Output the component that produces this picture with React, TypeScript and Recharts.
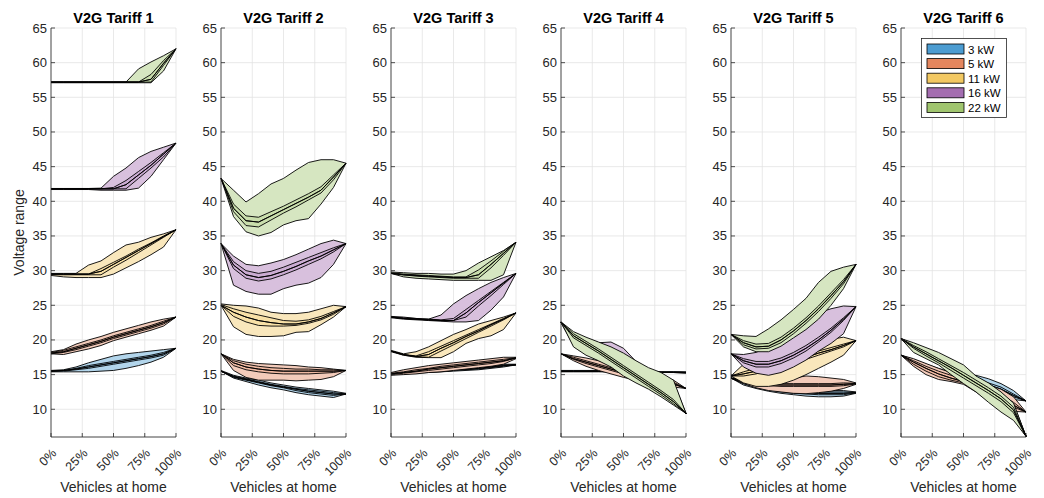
import { Area, CartesianGrid, ComposedChart, XAxis, YAxis } from 'recharts';

// share of vehicles at home, sampled every 10 %
const SHARE = [0, 10, 20, 30, 40, 50, 60, 70, 80, 90, 100];
const X_TICKS = [0, 25, 50, 75, 100];
const Y_TICKS = [10, 15, 20, 25, 30, 35, 40, 45, 50, 55, 60, 65];
const TITLES = ['V2G Tariff 1', 'V2G Tariff 2', 'V2G Tariff 3', 'V2G Tariff 4', 'V2G Tariff 5', 'V2G Tariff 6'];
const POWERS = ['3 kW', '5 kW', '11 kW', '16 kW', '22 kW'];
const COLORS = ['#0072BD', '#D95319', '#EDB120', '#7E2F8E', '#77AC30'];
// opaque pale fills: outer (min-max) and inner (quartile) bands
const FILL_OUTER = ['#B2D5EB', '#F3CBBA', '#F9E7BC', '#D8C0DD', '#D6E6C1'];
const FILL_INNER = ['#99C7E5', '#F0BAA3', '#F8E0A6', '#CBACD2', '#C9DEAC'];

// each band: [min, q1, median, q3, max]
const T1_3KW = [
  [15.4, 15.4, 15.4, 15.4, 15.5, 15.6, 15.9, 16.3, 16.8, 17.5, 18.8],
  [15.5, 15.5, 15.7, 15.9, 16.2, 16.5, 16.8, 17.1, 17.4, 17.8, 18.8],
  [15.5, 15.6, 15.8, 16.1, 16.4, 16.7, 17.0, 17.3, 17.6, 18.0, 18.8],
  [15.5, 15.6, 15.9, 16.3, 16.6, 16.9, 17.2, 17.5, 17.8, 18.2, 18.8],
  [15.6, 15.7, 16.1, 16.7, 17.2, 17.7, 18.0, 18.2, 18.4, 18.6, 18.8],
];
const T1_5KW = [
  [18.0, 17.9, 18.3, 18.7, 19.2, 19.9, 20.4, 20.9, 21.4, 22.0, 23.3],
  [18.0, 18.2, 18.6, 19.1, 19.6, 20.2, 20.7, 21.2, 21.7, 22.3, 23.3],
  [18.1, 18.3, 18.8, 19.3, 19.8, 20.4, 20.9, 21.4, 21.9, 22.5, 23.3],
  [18.2, 18.5, 19.0, 19.5, 20.0, 20.6, 21.1, 21.6, 22.1, 22.7, 23.3],
  [18.3, 18.6, 19.4, 20.0, 20.5, 21.1, 21.6, 22.1, 22.6, 23.0, 23.3],
];
const T1_11KW = [
  [29.3, 29.1, 29.0, 29.0, 29.0, 29.5, 30.4, 31.3, 32.3, 33.4, 35.9],
  [29.4, 29.4, 29.4, 29.4, 29.4, 30.5, 31.5, 32.6, 33.7, 34.8, 35.9],
  [29.5, 29.5, 29.5, 29.5, 29.9, 30.9, 31.9, 32.9, 33.9, 34.9, 35.9],
  [29.5, 29.5, 29.5, 29.5, 30.3, 31.2, 32.1, 33.1, 34.0, 35.0, 35.9],
  [29.6, 29.6, 29.6, 30.8, 31.4, 32.6, 33.7, 34.1, 34.8, 35.3, 35.9],
];
const T1_16KW = [
  [41.7, 41.7, 41.7, 41.7, 41.6, 41.6, 41.6, 41.9, 43.6, 46.0, 48.4],
  [41.8, 41.8, 41.8, 41.8, 41.8, 41.8, 41.8, 43.3, 44.8, 46.4, 48.4],
  [41.8, 41.8, 41.8, 41.8, 41.8, 41.8, 42.4, 43.8, 45.2, 46.8, 48.4],
  [41.8, 41.8, 41.8, 41.8, 41.8, 42.0, 43.0, 44.3, 45.6, 47.0, 48.4],
  [41.85, 41.85, 41.85, 41.85, 41.9, 43.6, 44.8, 46.3, 47.2, 47.8, 48.4],
];
const T1_22KW = [
  [57.1, 57.1, 57.1, 57.1, 57.1, 57.1, 57.1, 57.1, 57.1, 58.8, 62.0],
  [57.2, 57.2, 57.2, 57.2, 57.2, 57.2, 57.2, 57.2, 57.2, 59.6, 62.0],
  [57.2, 57.2, 57.2, 57.2, 57.2, 57.2, 57.2, 57.2, 57.6, 59.9, 62.0],
  [57.2, 57.2, 57.2, 57.2, 57.2, 57.2, 57.2, 57.2, 58.3, 60.3, 62.0],
  [57.2, 57.2, 57.2, 57.2, 57.2, 57.2, 57.2, 59.1, 60.1, 61.0, 62.0],
];

const T2_3KW = [
  [15.5, 14.5, 14.0, 13.5, 13.1, 12.8, 12.4, 12.1, 11.9, 11.7, 12.2],
  [15.5, 14.6, 14.2, 13.8, 13.4, 13.1, 12.7, 12.4, 12.2, 12.0, 12.2],
  [15.5, 14.7, 14.3, 13.9, 13.5, 13.2, 12.9, 12.6, 12.4, 12.2, 12.2],
  [15.5, 14.8, 14.4, 14.0, 13.6, 13.3, 13.0, 12.8, 12.6, 12.4, 12.2],
  [15.6, 14.9, 14.5, 14.2, 13.8, 13.5, 13.2, 13.0, 12.8, 12.6, 12.3],
];
const T2_5KW = [
  [18.0, 15.6, 14.6, 14.2, 14.2, 14.2, 14.1, 14.2, 14.3, 14.7, 15.6],
  [18.0, 16.3, 15.7, 15.4, 15.2, 15.1, 15.1, 15.1, 15.2, 15.3, 15.6],
  [18.0, 16.7, 16.1, 15.8, 15.6, 15.5, 15.5, 15.5, 15.5, 15.5, 15.6],
  [18.0, 17.0, 16.5, 16.2, 16.0, 15.9, 15.8, 15.8, 15.7, 15.7, 15.6],
  [18.0, 17.2, 16.8, 16.6, 16.5, 16.4, 16.3, 16.1, 16.0, 15.8, 15.6],
];
const T2_11KW = [
  [25.0, 21.9, 20.8, 20.5, 20.5, 20.6, 21.1, 21.2, 22.2, 23.3, 24.8],
  [25.0, 23.4, 22.6, 22.1, 22.0, 22.0, 22.1, 22.4, 22.9, 23.7, 24.8],
  [25.0, 24.0, 23.3, 22.8, 22.5, 22.3, 22.3, 22.6, 23.1, 23.9, 24.8],
  [25.1, 24.5, 24.0, 23.6, 23.2, 22.8, 22.7, 22.9, 23.4, 24.1, 24.8],
  [25.2, 25.0, 24.9, 24.6, 24.0, 23.8, 23.8, 24.0, 24.5, 25.0, 24.8],
];
const T2_16KW = [
  [33.9, 27.9, 27.0, 26.6, 26.6, 27.4, 27.9, 28.2, 29.0, 30.9, 33.9],
  [33.9, 30.3, 28.9, 28.5, 28.8, 29.4, 30.1, 30.9, 31.7, 32.7, 33.9],
  [33.9, 30.8, 29.4, 29.0, 29.3, 29.9, 30.6, 31.4, 32.1, 33.0, 33.9],
  [33.9, 31.3, 30.0, 29.6, 29.9, 30.5, 31.2, 31.9, 32.6, 33.3, 33.9],
  [33.9, 32.1, 30.9, 30.7, 31.1, 31.6, 32.3, 33.1, 33.9, 34.4, 33.9],
];
const T2_22KW = [
  [43.3, 37.8, 35.6, 35.0, 35.5, 36.6, 37.2, 37.5, 39.6, 42.0, 45.5],
  [43.3, 38.5, 36.5, 36.3, 37.3, 38.3, 39.2, 40.2, 41.2, 43.1, 45.5],
  [43.3, 39.0, 37.2, 37.0, 37.9, 38.8, 39.7, 40.6, 41.6, 43.5, 45.5],
  [43.3, 39.6, 37.9, 37.7, 38.5, 39.3, 40.2, 41.1, 42.1, 43.8, 45.5],
  [43.3, 41.6, 39.9, 41.1, 42.5, 43.3, 44.5, 45.6, 46.0, 46.0, 45.5],
];

const T3_3KW = [
  [15.0, 15.1, 15.2, 15.3, 15.4, 15.5, 15.6, 15.7, 15.9, 16.1, 16.4],
  [15.05, 15.15, 15.25, 15.35, 15.45, 15.6, 15.7, 15.8, 16.0, 16.2, 16.4],
  [15.1, 15.2, 15.3, 15.4, 15.5, 15.7, 15.8, 15.9, 16.1, 16.3, 16.4],
  [15.15, 15.25, 15.35, 15.5, 15.6, 15.75, 15.85, 16.0, 16.2, 16.4, 16.45],
  [15.2, 15.3, 15.4, 15.6, 15.7, 15.8, 15.9, 16.1, 16.3, 16.5, 16.5],
];
const T3_5KW = [
  [14.9, 15.0, 15.1, 15.3, 15.4, 15.6, 15.8, 16.0, 16.2, 16.5, 17.3],
  [15.0, 15.2, 15.4, 15.6, 15.8, 16.0, 16.2, 16.4, 16.6, 16.9, 17.4],
  [15.1, 15.3, 15.5, 15.8, 16.0, 16.2, 16.4, 16.6, 16.8, 17.0, 17.4],
  [15.2, 15.4, 15.7, 15.9, 16.2, 16.4, 16.6, 16.8, 17.0, 17.2, 17.45],
  [15.3, 15.7, 16.0, 16.3, 16.5, 16.7, 16.9, 17.1, 17.3, 17.5, 17.5],
];
const T3_11KW = [
  [18.3, 17.8, 17.5, 17.45, 17.45, 18.3, 19.5, 20.2, 20.6, 21.5, 23.9],
  [18.4, 17.8, 17.6, 17.5, 18.4, 19.3, 20.2, 21.1, 22.0, 22.9, 23.9],
  [18.4, 17.9, 17.6, 17.9, 18.8, 19.6, 20.5, 21.3, 22.2, 23.0, 23.9],
  [18.4, 17.9, 17.7, 18.3, 19.1, 19.9, 20.7, 21.5, 22.3, 23.1, 23.9],
  [18.5, 18.0, 18.3, 19.0, 19.9, 20.8, 21.5, 22.3, 22.8, 23.3, 23.9],
];
const T3_16KW = [
  [23.2, 23.0, 22.9, 22.8, 22.7, 22.6, 22.6, 22.8, 24.3, 26.2, 29.6],
  [23.3, 23.1, 23.0, 22.9, 22.8, 22.8, 23.3, 24.9, 26.4, 28.0, 29.6],
  [23.3, 23.1, 23.0, 22.9, 22.8, 22.8, 23.9, 25.4, 26.8, 28.2, 29.6],
  [23.3, 23.2, 23.1, 23.0, 22.9, 23.1, 24.4, 25.7, 27.0, 28.3, 29.6],
  [23.4, 23.3, 23.1, 23.0, 23.6, 25.2, 26.4, 27.4, 28.3, 29.0, 29.6],
];
const T3_22KW = [
  [29.6, 29.1, 28.9, 28.8, 28.7, 28.6, 28.6, 28.6, 28.6, 29.4, 34.1],
  [29.6, 29.4, 29.2, 29.1, 29.0, 28.9, 28.9, 28.9, 30.4, 32.2, 34.1],
  [29.6, 29.4, 29.3, 29.2, 29.1, 29.0, 29.0, 29.4, 30.9, 32.5, 34.1],
  [29.7, 29.5, 29.4, 29.3, 29.2, 29.1, 29.1, 30.1, 31.4, 32.8, 34.1],
  [29.8, 29.7, 29.6, 29.6, 29.5, 29.5, 30.0, 31.1, 32.0, 32.9, 34.1],
];

const T4_3KW = [
  [15.4, 15.4, 15.4, 15.4, 15.4, 15.3, 15.3, 15.3, 15.3, 15.3, 15.2],
  [15.45, 15.45, 15.45, 15.45, 15.4, 15.35, 15.35, 15.35, 15.3, 15.3, 15.25],
  [15.5, 15.5, 15.5, 15.5, 15.45, 15.4, 15.4, 15.4, 15.35, 15.35, 15.3],
  [15.55, 15.55, 15.55, 15.5, 15.5, 15.45, 15.45, 15.4, 15.4, 15.4, 15.35],
  [15.6, 15.6, 15.6, 15.6, 15.5, 15.5, 15.5, 15.5, 15.4, 15.4, 15.4],
];
const T4_5KW = [
  [18.0, 17.0, 16.2, 15.6, 15.1, 14.6, 14.2, 13.8, 13.5, 13.2, 13.0],
  [18.0, 17.2, 16.6, 16.1, 15.6, 15.1, 14.7, 14.3, 14.0, 13.6, 13.0],
  [18.0, 17.3, 16.8, 16.3, 15.8, 15.3, 14.9, 14.5, 14.1, 13.7, 13.0],
  [18.0, 17.5, 17.0, 16.5, 16.0, 15.5, 15.1, 14.7, 14.3, 13.9, 13.0],
  [18.0, 17.7, 17.4, 17.0, 16.6, 16.1, 15.6, 15.2, 14.8, 14.2, 13.0],
];
const T4_11KW = [
  [22.5, 19.5, 18.4, 17.4, 16.4, 15.3, 14.3, 13.3, 12.4, 11.3, 9.4],
  [22.5, 20.0, 18.9, 17.9, 17.0, 16.0, 15.0, 14.0, 13.1, 12.0, 9.4],
  [22.5, 20.2, 19.1, 18.2, 17.3, 16.3, 15.3, 14.3, 13.4, 12.3, 9.4],
  [22.5, 20.4, 19.3, 18.5, 17.6, 16.6, 15.6, 14.6, 13.7, 12.6, 9.4],
  [22.5, 20.8, 19.8, 19.0, 18.2, 17.3, 16.3, 15.3, 14.4, 13.3, 9.4],
];
const T4_16KW = [
  [22.5, 19.2, 18.0, 17.1, 16.2, 15.0, 14.0, 13.0, 12.2, 11.1, 9.4],
  [22.5, 20.3, 19.1, 18.0, 16.8, 15.6, 14.4, 13.3, 12.4, 11.3, 9.4],
  [22.5, 20.6, 19.4, 18.3, 17.1, 15.9, 14.7, 13.6, 12.7, 11.6, 9.4],
  [22.5, 20.9, 19.7, 18.6, 17.4, 16.2, 15.0, 13.9, 13.0, 11.9, 9.4],
  [22.5, 21.0, 20.2, 19.6, 19.7, 18.8, 16.9, 15.8, 15.0, 13.9, 9.4],
];
const T4_22KW = [
  [22.6, 19.0, 17.8, 17.0, 16.1, 14.8, 13.8, 12.9, 11.8, 10.6, 9.4],
  [22.6, 20.3, 19.2, 18.1, 16.9, 15.7, 14.5, 13.3, 12.1, 10.8, 9.4],
  [22.6, 20.6, 19.5, 18.4, 17.2, 16.0, 14.8, 13.6, 12.4, 11.1, 9.4],
  [22.6, 20.9, 19.8, 18.7, 17.5, 16.3, 15.1, 13.9, 12.7, 11.4, 9.4],
  [22.6, 21.2, 20.4, 19.7, 19.0, 18.1, 17.0, 16.0, 15.3, 14.2, 9.4],
];

const T5_3KW = [
  [14.5, 13.5, 13.0, 12.6, 12.3, 12.1, 11.9, 11.8, 11.8, 11.9, 12.3],
  [14.5, 13.7, 13.2, 12.8, 12.5, 12.3, 12.2, 12.1, 12.1, 12.1, 12.35],
  [14.5, 13.8, 13.3, 13.0, 12.7, 12.5, 12.4, 12.3, 12.3, 12.3, 12.4],
  [14.5, 13.9, 13.4, 13.1, 12.9, 12.7, 12.6, 12.5, 12.5, 12.5, 12.45],
  [14.5, 14.0, 13.6, 13.3, 13.1, 12.9, 12.8, 12.7, 12.7, 12.7, 12.5],
];
const T5_5KW = [
  [14.5, 13.7, 13.1, 12.7, 12.5, 12.3, 12.25, 12.4, 12.6, 13.0, 13.6],
  [14.5, 13.85, 13.5, 13.4, 13.3, 13.3, 13.3, 13.3, 13.3, 13.4, 13.65],
  [14.5, 14.0, 13.7, 13.6, 13.5, 13.5, 13.5, 13.5, 13.5, 13.6, 13.7],
  [14.5, 14.15, 13.9, 13.8, 13.7, 13.7, 13.7, 13.7, 13.7, 13.8, 13.75],
  [14.5, 14.4, 14.3, 14.3, 14.3, 14.5, 14.8, 14.7, 14.5, 14.3, 13.8],
];
const T5_11KW = [
  [14.8, 13.8, 13.3, 13.3, 13.6, 14.2, 15.0, 15.9, 16.8, 17.8, 19.9],
  [14.8, 14.8, 15.1, 15.6, 16.1, 16.6, 17.2, 17.8, 18.4, 19.0, 19.9],
  [14.8, 15.1, 15.5, 16.0, 16.5, 17.0, 17.5, 18.1, 18.6, 19.2, 19.9],
  [14.8, 15.4, 15.9, 16.4, 16.9, 17.4, 17.9, 18.4, 18.9, 19.4, 19.9],
  [14.8, 16.5, 16.7, 17.0, 17.6, 18.2, 18.9, 19.5, 20.1, 20.4, 19.9],
];
const T5_16KW = [
  [18.0, 16.1, 15.2, 14.9, 15.3, 16.1, 17.1, 18.4, 19.5, 20.9, 24.8],
  [18.0, 16.7, 16.1, 16.1, 16.6, 17.4, 18.4, 19.7, 21.1, 22.8, 24.8],
  [18.0, 17.0, 16.5, 16.5, 17.0, 17.8, 18.8, 20.0, 21.4, 23.0, 24.8],
  [18.0, 17.3, 16.9, 16.9, 17.4, 18.2, 19.2, 20.4, 21.7, 23.2, 24.8],
  [18.0, 17.9, 18.2, 19.0, 20.3, 21.7, 23.0, 23.9, 24.5, 24.9, 24.8],
];
const T5_22KW = [
  [20.8, 19.0, 18.3, 18.3, 19.1, 20.3, 21.5, 23.0, 25.0, 27.4, 30.9],
  [20.8, 19.3, 18.7, 18.8, 19.6, 20.9, 22.4, 24.1, 26.0, 28.1, 30.9],
  [20.8, 19.6, 19.0, 19.1, 20.0, 21.3, 22.8, 24.5, 26.4, 28.4, 30.9],
  [20.8, 19.9, 19.4, 19.5, 20.4, 21.7, 23.2, 24.9, 26.8, 28.7, 30.9],
  [20.8, 20.6, 20.5, 21.6, 22.9, 24.4, 26.0, 28.3, 29.9, 30.5, 30.9],
];

const T6_3KW = [
  [17.8, 16.5, 15.5, 14.7, 14.2, 13.8, 13.2, 12.6, 12.0, 11.4, 11.2],
  [17.8, 16.7, 15.8, 15.1, 14.6, 14.2, 13.8, 13.3, 12.7, 11.8, 11.2],
  [17.8, 16.9, 16.0, 15.3, 14.8, 14.4, 14.0, 13.5, 12.9, 12.0, 11.2],
  [17.8, 17.0, 16.2, 15.5, 15.0, 14.6, 14.3, 13.8, 13.2, 12.2, 11.2],
  [17.8, 17.2, 16.5, 15.9, 15.3, 14.9, 14.9, 14.4, 13.7, 12.7, 11.2],
];
const T6_5KW = [
  [17.8, 16.2, 15.0, 14.3, 14.0, 13.6, 12.5, 11.2, 10.2, 9.7, 9.6],
  [17.8, 16.5, 15.5, 14.7, 14.2, 13.8, 13.0, 12.0, 11.1, 10.3, 9.6],
  [17.8, 16.8, 15.9, 15.1, 14.5, 14.0, 13.3, 12.4, 11.5, 10.6, 9.6],
  [17.8, 17.0, 16.2, 15.5, 14.9, 14.4, 13.7, 12.9, 12.1, 11.0, 9.6],
  [17.8, 17.3, 16.6, 15.9, 15.3, 14.7, 14.2, 13.5, 12.9, 11.8, 9.6],
];
const T6_11KW = [
  [20.2, 18.5, 17.6, 16.7, 15.5, 14.2, 13.0, 11.6, 10.2, 8.9, 6.1],
  [20.2, 18.8, 17.9, 16.9, 15.9, 14.8, 13.6, 12.3, 11.0, 9.5, 6.1],
  [20.2, 18.9, 18.0, 17.1, 16.1, 15.0, 13.8, 12.6, 11.3, 9.8, 6.1],
  [20.2, 19.0, 18.2, 17.3, 16.4, 15.3, 14.1, 12.9, 11.6, 10.1, 6.1],
  [20.2, 19.3, 18.5, 17.7, 16.8, 15.9, 14.6, 13.5, 12.2, 10.6, 6.1],
];
const T6_16KW = [
  [20.2, 18.4, 17.5, 16.6, 15.3, 14.0, 12.8, 11.3, 9.9, 8.7, 6.1],
  [20.2, 18.7, 17.8, 16.8, 15.8, 14.7, 13.5, 12.2, 10.9, 9.4, 6.1],
  [20.2, 18.9, 18.0, 17.0, 16.0, 14.9, 13.7, 12.5, 11.2, 9.8, 6.1],
  [20.2, 19.1, 18.2, 17.3, 16.3, 15.2, 14.0, 12.8, 11.6, 10.1, 6.1],
  [20.2, 19.4, 18.7, 17.9, 17.0, 16.2, 14.7, 13.7, 12.4, 10.8, 6.1],
];
const T6_22KW = [
  [20.2, 18.2, 17.3, 16.4, 15.0, 13.7, 12.5, 11.0, 9.6, 8.4, 6.1],
  [20.2, 18.8, 17.7, 16.7, 15.6, 14.5, 13.4, 12.3, 11.1, 9.5, 6.1],
  [20.2, 19.0, 18.0, 17.0, 16.0, 14.9, 13.8, 12.7, 11.5, 9.9, 6.1],
  [20.2, 19.2, 18.3, 17.3, 16.3, 15.3, 14.2, 13.1, 11.9, 10.3, 6.1],
  [20.2, 19.6, 18.9, 18.2, 17.3, 16.4, 14.8, 13.8, 12.5, 10.9, 6.1],
];

const PANELS = [
  [T1_3KW, T1_5KW, T1_11KW, T1_16KW, T1_22KW],
  [T2_3KW, T2_5KW, T2_11KW, T2_16KW, T2_22KW],
  [T3_3KW, T3_5KW, T3_11KW, T3_16KW, T3_22KW],
  [T4_3KW, T4_5KW, T4_11KW, T4_16KW, T4_22KW],
  [T5_3KW, T5_5KW, T5_11KW, T5_16KW, T5_22KW],
  [T6_3KW, T6_5KW, T6_11KW, T6_16KW, T6_22KW],
];

const FONT = '"Liberation Sans", Arial, Helvetica, sans-serif';
const INK = '#262626';
const GRID = '#e3e3e3';
const LINE_W = 0.9;

function buildRows(bands: number[][][]) {
  return SHARE.map((x, i) => {
    const row: Record<string, number | number[]> = { x };
    bands.forEach(([lo, q1, med, q3, hi], k) => {
      row[`r${k}`] = [lo[i], hi[i]];
      row[`q${k}`] = [q1[i], q3[i]];
      row[`m${k}`] = [med[i], med[i]];
    });
    return row;
  });
}

function BottomTick(props: any) {
  const { x, y, payload } = props;
  return (
    <g>
      <line x1={x} x2={x} y1={y} y2={y - 4} stroke={INK} strokeWidth={0.8} />
      <text
        transform={`translate(${x + 6},${y + 17}) rotate(-45)`}
        textAnchor="end"
        fontSize={12.5}
        fontFamily={FONT}
        fill={INK}
      >
        {`${payload.value}%`}
      </text>
    </g>
  );
}

function TopTick(props: any) {
  const { x, y } = props;
  return <line x1={x} x2={x} y1={y} y2={y + 4} stroke={INK} strokeWidth={0.8} />;
}

function LeftTick(props: any) {
  const { x, y, payload } = props;
  return (
    <g>
      <line x1={x} x2={x + 4} y1={y} y2={y} stroke={INK} strokeWidth={0.8} />
      <text x={x - 4} y={y + 4.5} textAnchor="end" fontSize={13} fontFamily={FONT} fill={INK}>
        {payload.value}
      </text>
    </g>
  );
}

function RightTick(props: any) {
  const { x, y } = props;
  return <line x1={x} x2={x - 4} y1={y} y2={y} stroke={INK} strokeWidth={0.8} />;
}

function Panel({ index }: { index: number }) {
  const bands = PANELS[index];
  const rows = buildRows(bands);
  const axisLine = { stroke: INK, strokeWidth: 0.8 };
  return (
    <ComposedChart width={185} height={498} data={rows} margin={{ top: 28, right: 20, bottom: 0, left: 0 }}>
      <CartesianGrid stroke={GRID} strokeWidth={0.8} />
      <XAxis
        type="number"
        dataKey="x"
        domain={[0, 100]}
        ticks={X_TICKS}
        interval={0}
        height={61}
        tickSize={0}
        tickMargin={0}
        tickLine={false}
        axisLine={axisLine}
        tick={(p: any) => <BottomTick {...p} />}
      />
      <XAxis
        xAxisId="top"
        orientation="top"
        type="number"
        dataKey="x"
        domain={[0, 100]}
        ticks={X_TICKS}
        interval={0}
        height={0}
        tickSize={0}
        tickMargin={0}
        tickLine={false}
        axisLine={axisLine}
        tick={(p: any) => <TopTick {...p} />}
      />
      <YAxis
        type="number"
        domain={[6, 65]}
        allowDataOverflow
        ticks={Y_TICKS}
        interval={0}
        width={40}
        tickSize={0}
        tickMargin={0}
        tickLine={false}
        axisLine={axisLine}
        tick={(p: any) => <LeftTick {...p} />}
      />
      <YAxis
        yAxisId="right"
        orientation="right"
        type="number"
        domain={[6, 65]}
        allowDataOverflow
        ticks={Y_TICKS}
        interval={0}
        width={0}
        tickSize={0}
        tickMargin={0}
        tickLine={false}
        axisLine={axisLine}
        tick={(p: any) => <RightTick {...p} />}
      />
      {bands.flatMap((_, k) => [
        <Area
          key={`r${k}`}
          dataKey={`r${k}`}
          type="linear"
          fill={FILL_OUTER[k]}
          fillOpacity={1}
          stroke="#000"
          strokeWidth={LINE_W}
          dot={false}
          activeDot={false}
          isAnimationActive={false}
        />,
        <Area
          key={`q${k}`}
          dataKey={`q${k}`}
          type="linear"
          fill={FILL_INNER[k]}
          fillOpacity={1}
          stroke="#000"
          strokeWidth={LINE_W}
          dot={false}
          activeDot={false}
          isAnimationActive={false}
        />,
        <Area
          key={`m${k}`}
          dataKey={`m${k}`}
          type="linear"
          fill="none"
          stroke="#000"
          strokeWidth={LINE_W}
          dot={false}
          activeDot={false}
          isAnimationActive={false}
        />,
      ])}
    </ComposedChart>
  );
}

export default function App() {
  return (
    <div style={{ position: 'absolute', left: 0, top: 0, width: 1044, height: 498, background: '#fff', fontFamily: FONT }}>
      {TITLES.map((_, i) => (
        <div key={i} style={{ position: 'absolute', left: 170 * i + 11, top: 0 }}>
          <Panel index={i} />
        </div>
      ))}
      <svg width={1044} height={498} style={{ position: 'absolute', left: 0, top: 0, pointerEvents: 'none' }}>
        {TITLES.map((t, i) => (
          <g key={t}>
            <text x={113.5 + 170 * i} y={22.5} textAnchor="middle" fontSize={14.5} fontWeight="bold" fontFamily={FONT} fill="#000">
              {t}
            </text>
            <text x={113.5 + 170 * i} y={492} textAnchor="middle" fontSize={14} fontFamily={FONT} fill={INK}>
              Vehicles at home
            </text>
          </g>
        ))}
        <text
          transform="translate(24,232.5) rotate(-90)"
          textAnchor="middle"
          fontSize={14}
          fontFamily={FONT}
          fill={INK}
        >
          Voltage range
        </text>
        <rect x={921.5} y={38.5} width={85} height={79} fill="#fff" stroke={INK} strokeWidth={0.8} />
        {POWERS.map((p, k) => (
          <g key={p}>
            <rect x={927} y={44 + 14.6 * k} width={37} height={10} fill={COLORS[k]} fillOpacity={0.7} stroke="#000" strokeWidth={0.8} />
            <text x={968} y={53.5 + 14.6 * k} fontSize={11.5} fontFamily={FONT} fill="#000">
              {p}
            </text>
          </g>
        ))}
      </svg>
    </div>
  );
}
